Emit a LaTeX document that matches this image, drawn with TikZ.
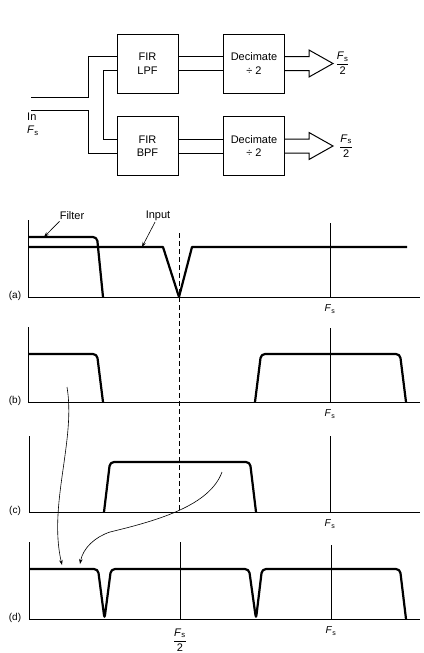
\documentclass[tikz,border=0pt]{standalone}
\usepackage{fontspec}
\setmainfont{Liberation Sans}
\usetikzlibrary{arrows.meta, positioning, calc}

\newcommand{\Fs}{\textit{F}\textsubscript{s}}
\newcommand{\Fhalf}{$\displaystyle\frac{\mbox{\Fs}}{\mbox{2}}$}

\begin{document}
\begin{tikzpicture}[
    x=1pt, y=-1pt,
    % --- Block diagram styles ---
    blk/.style={draw, line width=1pt, minimum width=61pt, minimum height=59pt,
        align=center, inner sep=0pt, font=\fontsize{11}{13.5}\selectfont},
    bus/.style={line width=1pt, line join=miter},
    lbl/.style={inner sep=1pt, align=center, font=\fontsize{11}{13}\selectfont},
    % --- Spectrum styles ---
    axis/.style={line width=1pt},
    spec/.style={line width=2.2pt, rounded corners=4pt, line join=round},
    fold/.style={line width=0.7pt, dash pattern=on 5pt off 3pt},
    tag/.style={inner sep=1pt, font=\fontsize{10}{12}\selectfont},
    leader/.style={line width=0.6pt, -{Stealth[length=5pt, width=3.5pt]}},
]
\useasboundingbox (0,0) rectangle (423,653);

% =============================================
%  Filter bank (top)
% =============================================
\node[blk] (lpf)  at (147.5, 63.5) {FIR\\LPF};
\node[blk] (decA) at (254, 63.5)   {Decimate\\÷ 2};
\node[blk] (bpf)  at (147.5, 146)  {FIR\\BPF};
\node[blk] (decB) at (254, 146)    {Decimate\\÷ 2};

\coordinate (inA) at (31, 97);
\coordinate (inB) at (31, 110);
\node[lbl, anchor=north west, align=left] (inlbl) at (26, 112) {In\\\Fs};

% input bus split
\draw[bus] (inA) -| ([xshift=-28pt, yshift=7pt]lpf.west) -- ([yshift=7pt]lpf.west);
\draw[bus] (inB) -| ([xshift=-28pt, yshift=-7pt]bpf.west) -- ([yshift=-7pt]bpf.west);
\draw[bus] ([yshift=-7pt]lpf.west) -- ++(-13, 0) |- ([yshift=7pt]bpf.west);

% filter to decimator
\draw[bus] ([yshift=7pt]lpf.east) -- ([yshift=7pt]decA.west);
\draw[bus] ([yshift=-7pt]lpf.east) -- ([yshift=-7pt]decA.west);
\draw[bus] ([yshift=7pt]bpf.east) -- ([yshift=7pt]decB.west);
\draw[bus] ([yshift=-7pt]bpf.east) -- ([yshift=-7pt]decB.west);

% outputs
\draw[bus] ([yshift=7pt]decA.east) -- ++(24, 0) -- ++(0, -6.5)
    -- ++(24, 13.5) coordinate (tipA) -- ++(-24, 13.5) -- ++(0, -6.5)
    -- ([yshift=-7pt]decA.east);
\draw[bus] ([yshift=7pt]decB.east) -- ++(24, 0) -- ++(0, -6.5)
    -- ++(24, 13.5) coordinate (tipB) -- ++(-24, 13.5) -- ++(0, -6.5)
    -- ([yshift=-7pt]decB.east);
\node[lbl, right=1.5pt of tipA] (outA) {\Fhalf};
\node[lbl, right=5pt of tipB] (outB) {\Fhalf};

% =============================================
%  (a) Input and filter
% =============================================
\draw[axis] (28, 220) -- (28, 297) -- (420, 297);
\draw[axis] (330, 223) -- (330, 297);
\draw[spec, rounded corners=0pt] (28, 247) -- (163, 247) -- (179, 297) -- (192, 247) -- (407, 247);
\draw[spec] (28, 237) -- (97, 237) -- (103, 297);
\node[tag] (tagA) at (15, 296) {(a)};
\node[tag] (fsA)  at (330, 309) {\Fs};
\node[lbl] (filt) at (72, 216) {Filter};
\node[lbl] (inp)  at (158, 216) {Input};
\coordinate (filtpt) at (44, 237);
\coordinate (inppt)  at (142, 247);
\draw[leader] ([xshift=1pt]filt.south west) -- (filtpt);
\draw[leader] ([xshift=-3pt]inp.south) -- (inppt);

% fold line at Fs/2
\draw[fold] (179, 233) -- (179, 512);

% =============================================
%  (b) After LPF and BPF
% =============================================
\draw[axis] (28, 327) -- (28, 402) -- (420, 402);
\draw[axis] (330, 328) -- (330, 402);
\draw[spec] (28, 354) -- (97, 354) -- (103, 402);
\draw[spec] (255, 402) -- (261, 354) -- (400, 354) -- (406, 402);
\node[tag] (tagB) at (15, 401) {(b)};
\node[tag] (fsB)  at (330, 414) {\Fs};

% =============================================
%  (c) Band-pass output
% =============================================
\draw[axis] (29, 436) -- (29, 512) -- (420, 512);
\draw[axis] (330, 436) -- (330, 512);
\draw[spec] (104, 512) -- (110, 462) -- (250, 462) -- (256, 512);
\node[tag] (tagC) at (15, 511) {(c)};
\node[tag] (fsC)  at (330, 524) {\Fs};

% =============================================
%  (d) After decimation
% =============================================
\draw[axis] (29, 542) -- (29, 619) -- (420, 619);
\draw[axis] (180, 542) -- (180, 619);
\draw[axis] (331, 545) -- (331, 619);
\draw[spec] (29, 569) -- (98, 569) -- (104.5, 619) -- (111, 569) -- (249, 569)
    -- (256, 619) -- (262, 569) -- (400, 569) -- (406, 619);
\node[tag] (tagD) at (15, 618) {(d)};
\node[tag] (fsD)  at (331, 631) {\Fs};
\node[lbl] (fhD)  at (180, 640) {\Fhalf};

% aliasing leaders
\coordinate (srcB) at (67, 387);
\coordinate (srcC) at (222, 472);
\coordinate (dstB) at (62, 565);
\coordinate (dstC) at (80, 564);
\draw[leader] (srcB) .. controls (76, 440) and (48, 505) .. (dstB);
\draw[leader] (srcC) .. controls (210, 505) and (160, 520) .. (110, 532)
    .. controls (95, 537) and (83, 548) .. (dstC);

\end{tikzpicture}
\end{document}
